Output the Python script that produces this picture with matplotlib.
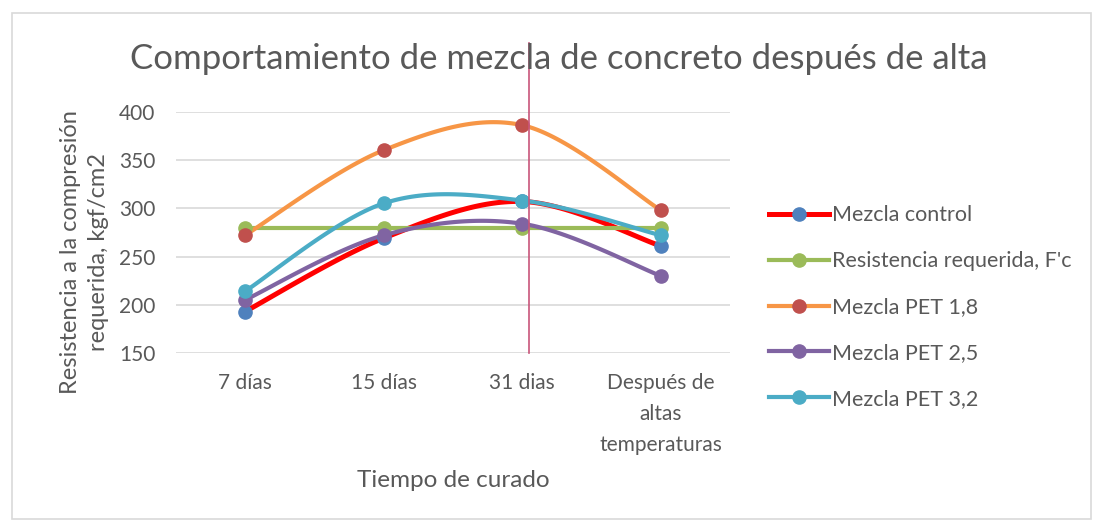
import numpy as np
import matplotlib.pyplot as plt
from matplotlib.lines import Line2D
from matplotlib.patches import Rectangle

plt.rcParams['font.family'] = ['Lato', 'DejaVu Sans']

categorias = ['7 días', '15 días', '31 dias', 'Después de\naltas\ntemperaturas']
control = [193, 269, 307, 261]
requerida = [280, 280, 280, 280]
pet_18 = [272, 360, 386, 298]
pet_25 = [205, 272, 284, 230]
pet_32 = [214, 305, 308, 272]

series = [
    ('Mezcla control', control, '#FF0000', '#4F81BD'),
    ('Resistencia requerida, F\'c', requerida, '#9BBB59', '#9BBB59'),
    ('Mezcla PET 1,8', pet_18, '#F79646', '#C0504D'),
    ('Mezcla PET 2,5', pet_25, '#8064A2', '#8064A2'),
    ('Mezcla PET 3,2', pet_32, '#4BACC6', '#4BACC6'),
]

# posicion de la linea vertical (cursor) que aparece en la imagen
x_cursor = 2.05
gris = '#595959'


def suavizar(y, n=40):
    # curva tipo Catmull-Rom, como las lineas suavizadas de Excel
    y = np.asarray(y, dtype=float)
    x = np.arange(len(y), dtype=float)
    px = np.concatenate([[x[0]], x, [x[-1]]])
    py = np.concatenate([[y[0]], y, [y[-1]]])
    xs, ys = [], []
    for i in range(1, len(px) - 2):
        t = np.linspace(0, 1, n)
        for p, out in ((px, xs), (py, ys)):
            p0, p1, p2, p3 = p[i - 1], p[i], p[i + 1], p[i + 2]
            out.append(0.5 * ((2 * p1) + (-p0 + p2) * t
                              + (2 * p0 - 5 * p1 + 4 * p2 - p3) * t ** 2
                              + (-p0 + 3 * p1 - 3 * p2 + p3) * t ** 3))
    return np.concatenate(xs), np.concatenate(ys)


fig = plt.figure(figsize=(10.95, 5.24), dpi=100)
ax = fig.add_axes([0.1604, 0.326, 0.5063, 0.461])

fig.patches.append(Rectangle((0.011, 0.01), 0.985, 0.965, transform=fig.transFigure,
                             fill=False, edgecolor='#D9D9D9', lw=1.2))

x = np.arange(len(categorias))
handles = []
for nombre, vals, c_linea, c_marca in series:
    xs, ys = suavizar(vals)
    lw = 3.6 if c_linea == '#FF0000' else 3.0
    ax.plot(xs, ys, color=c_linea, lw=lw, solid_capstyle='round', zorder=3)
    ax.plot(x, vals, 'o', color=c_marca, markersize=9.5, zorder=4)
    handles.append(Line2D([], [], color=c_linea, lw=lw, marker='o', markersize=9.5,
                          markerfacecolor=c_marca, markeredgecolor=c_marca))

ax.axvline(x_cursor, ymin=0, ymax=1.285, color='#C8557A', lw=1.2, clip_on=False, zorder=5)

ax.set_xlim(-0.5, len(categorias) - 0.5)
ax.set_ylim(150, 400)
ax.set_yticks(range(150, 401, 50))
ax.set_xticks(x)
ax.set_xticklabels(categorias, fontsize=15, color=gris, linespacing=1.7)
ax.tick_params(axis='y', labelsize=15, labelcolor=gris, length=0, pad=14.5)
ax.tick_params(axis='x', length=0, pad=14)
ax.grid(axis='y', color='#D9D9D9', lw=1.2)
ax.set_axisbelow(True)
for s in ax.spines.values():
    s.set_visible(False)

ax.set_xlabel('Tiempo de curado', fontsize=17.5, color=gris, labelpad=11)
ax.set_ylabel('Resistencia a la compresión\nrequerida, kgf/cm2', fontsize=17,
              color=gris, linespacing=1.4)
ax.yaxis.set_label_coords(-0.12, 0.42)
fig.text(0.51, 0.888, 'Comportamiento de mezcla de concreto después de alta',
         ha='center', va='center', fontsize=25, color=gris)

fig.legend(handles, [s[0] for s in series], loc='center left',
           bbox_to_anchor=(0.685, 0.414), frameon=False, fontsize=15.5,
           labelcolor=gris, handlelength=2.75, handletextpad=0.15, labelspacing=1.2)

fig.savefig('out.png', dpi=100)
